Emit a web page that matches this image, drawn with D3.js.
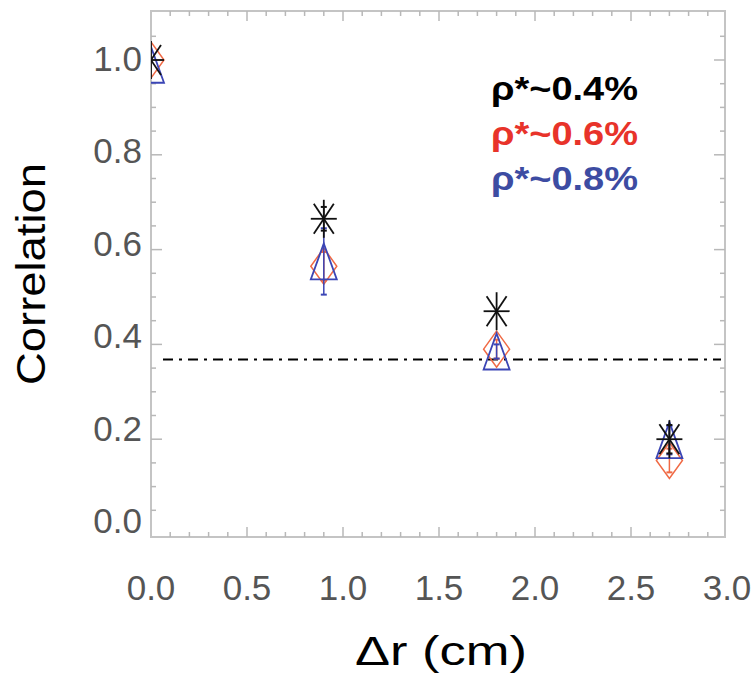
<!DOCTYPE html>
<html>
<head>
<meta charset="utf-8">
<script src="https://cdn.jsdelivr.net/npm/d3@7"></script>
<style>
	body { margin:0; background:#fff; }
	.tick_lab { font-family:"Liberation Sans", Arial, sans-serif; font-size:35px; fill:#555; }
	.axis_title { font-family:"Liberation Sans", Arial, sans-serif; font-size:41px; fill:#000; }
	.leg { font-family:"Liberation Sans", Arial, sans-serif; font-size:34px; font-weight:bold; }
</style>
</head>
<body>
<div class="c_chart"></div>
<script>
/*DATA
------------------------------------------------------
*/
const dr = [0.0, 0.9, 1.8, 2.7];                 //Δr (cm)
const corr04 = [1.0, 0.665, 0.47, 0.2];          //ρ*~0.4%
const err04 = [0.0, 0.025, 0.0, 0.03];
const corr06 = [1.0, 0.565, 0.39, 0.155];        //ρ*~0.6%
const err06 = [0.0, 0.03, 0.02, 0.025];
const corr08 = [0.99, 0.575, 0.385, 0.198];      //ρ*~0.8%
const err08 = [0.0, 0.07, 0.015, 0.03];
const xTicks = [0, 0.5, 1, 1.5, 2, 2.5, 3];
const yTicks = [0, 0.2, 0.4, 0.6, 0.8, 1.0];
const legendLabels = ["ρ*~0.4%", "ρ*~0.6%", "ρ*~0.8%"];
const threshold = 0.368; //1/e

/*SVG, FORMAT
------------------------------------------------------
*/
let width = 755;
let height = 677;
const frame = {left:151, right:725, top:11, bottom:537};

let svg = d3.select(".c_chart")
	.append("svg")
	.attr("width", width)
	.attr("height", height);

let x = d3.scaleLinear().domain([0, 3]).range([frame.left, frame.right + 2]);
let y = d3.scaleLinear().domain([0, 1]).range([534, 60]);

const fmt = d3.format(".1f");
const colBlack = "#111", colRed = "#f06a45", colBlue = "#3b45b5";

/*FRAME, TICKS
------------------------------------------------------
*/
svg.append("rect")
	.attr("x", frame.left).attr("y", frame.top)
	.attr("width", frame.right - frame.left)
	.attr("height", frame.bottom - frame.top)
	.attr("fill", "none")
	.attr("stroke", "#c4c4c4")
	.attr("stroke-width", 2);

let ticksG = svg.append("g").attr("stroke", "#b8b8b8").attr("stroke-width", 1.5);

//x ticks every 0.1, major every 0.5
d3.range(1, 30).forEach(i => {
	let len = (i % 5 === 0) ? 10 : 5;
	let px = x(i / 10);
	ticksG.append("line").attr("x1", px).attr("x2", px)
		.attr("y1", frame.bottom).attr("y2", frame.bottom - len);
	ticksG.append("line").attr("x1", px).attr("x2", px)
		.attr("y1", frame.top).attr("y2", frame.top + len);
});

//y ticks every 0.05, major every 0.2
d3.range(1, 22).forEach(i => {
	let v = i * 0.05;
	let len = (i % 4 === 0) ? 11 : 5;
	let py = y(v);
	if (py <= frame.top + 2) return;
	ticksG.append("line").attr("y1", py).attr("y2", py)
		.attr("x1", frame.left).attr("x2", frame.left + len);
	ticksG.append("line").attr("y1", py).attr("y2", py)
		.attr("x1", frame.right).attr("x2", frame.right - len);
});

//tick labels
svg.selectAll(".xlab")
	.data(xTicks)
	.enter()
	.append("text")
	.attr("class", "tick_lab")
	.attr("x", d => x(d))
	.attr("y", 600)
	.attr("text-anchor", "middle")
	.text(d => fmt(d));

svg.selectAll(".ylab")
	.data(yTicks)
	.enter()
	.append("text")
	.attr("class", "tick_lab")
	.attr("x", 142)
	.attr("y", d => y(d) + 11 - 12 * (1 - d))
	.attr("text-anchor", "end")
	.text(d => fmt(d));

//axis titles
svg.append("text")
	.attr("class", "axis_title")
	.attr("transform", "translate(45,274) rotate(-90)")
	.attr("text-anchor", "middle")
	.attr("textLength", 222)
	.attr("lengthAdjust", "spacingAndGlyphs")
	.text("Correlation");

svg.append("text")
	.attr("class", "axis_title")
	.attr("x", 441)
	.attr("y", 665)
	.attr("text-anchor", "middle")
	.attr("textLength", 172)
	.attr("lengthAdjust", "spacingAndGlyphs")
	.text("Δr (cm)");

/*THRESHOLD LINE
------------------------------------------------------
*/
svg.append("line")
	.attr("x1", 163).attr("x2", 721)
	.attr("y1", y(threshold)).attr("y2", y(threshold))
	.attr("stroke", "#000")
	.attr("stroke-width", 2)
	.attr("stroke-dasharray", "10,6,3,6");

/*MARKERS
------------------------------------------------------
*/
svg.append("clipPath").attr("id", "clipFrame")
	.append("rect")
	.attr("x", frame.left).attr("y", frame.top)
	.attr("width", frame.right - frame.left)
	.attr("height", frame.bottom - frame.top);

let plot = svg.append("g").attr("clip-path", "url(#clipFrame)");

let errBars = (vals, errs, col) => {
	dr.forEach((d, i) => {
		if (errs[i] <= 0) return;
		let px = x(d), y1 = y(vals[i] - errs[i]), y2 = y(vals[i] + errs[i]);
		plot.append("line").attr("x1", px).attr("x2", px).attr("y1", y1).attr("y2", y2)
			.attr("stroke", col).attr("stroke-width", 1.5);
		[y1, y2].forEach(py => {
			plot.append("line").attr("x1", px - 3).attr("x2", px + 3).attr("y1", py).attr("y2", py)
				.attr("stroke", col).attr("stroke-width", 2);
		});
	});
};

//red diamonds
errBars(corr06, err06, colRed);
plot.selectAll(".diam")
	.data(dr)
	.enter()
	.append("path")
	.attr("d", (d, i) => {
		let px = x(d), py = y(corr06[i]);
		return `M${px},${py - 18}L${px + 13},${py}L${px},${py + 18}L${px - 13},${py}Z`;
	})
	.attr("fill", "none")
	.attr("stroke", colRed)
	.attr("stroke-width", 1.5);

//blue triangles
errBars(corr08, err08, colBlue);
plot.selectAll(".tri")
	.data(dr)
	.enter()
	.append("path")
	.attr("d", (d, i) => {
		let px = x(d), py = y(corr08[i]);
		return `M${px},${py - 18}L${px + 13},${py + 18}L${px - 13},${py + 18}Z`;
	})
	.attr("fill", "none")
	.attr("stroke", colBlue)
	.attr("stroke-width", 1.8);

//black asterisks
errBars(corr04, err04, colBlack);
dr.forEach((d, i) => {
	let px = x(d), py = y(corr04[i]);
	let arms = [[13, 0], [0, 19], [10, 15], [10, -15]];
	arms.forEach(a => {
		plot.append("line")
			.attr("x1", px - a[0]).attr("y1", py - a[1])
			.attr("x2", px + a[0]).attr("y2", py + a[1])
			.attr("stroke", colBlack)
			.attr("stroke-width", 1.8);
	});
});

/*LEGEND
------------------------------------------------------
*/
svg.selectAll(".leg")
	.data(legendLabels)
	.enter()
	.append("text")
	.attr("class", "leg")
	.attr("x", 491)
	.attr("y", (d, i) => 100 + i * 45)
	.attr("textLength", 147)
	.attr("lengthAdjust", "spacingAndGlyphs")
	.attr("fill", (d, i) => ["#000", "#e8332a", "#3d4ca2"][i])
	.text(d => d);
</script>
</body>
</html>
